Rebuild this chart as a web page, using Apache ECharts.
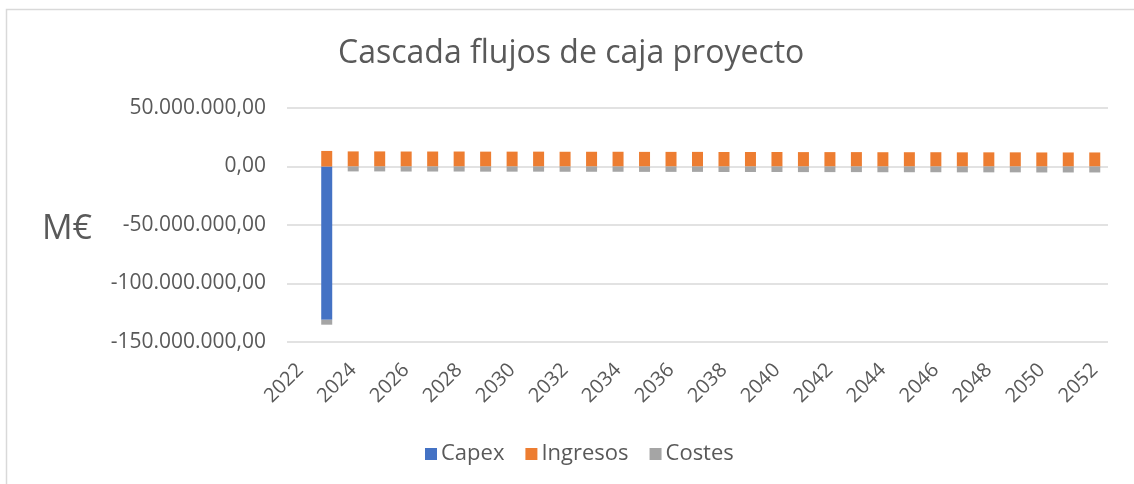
<!DOCTYPE html>
<html>
<head>
<meta charset="utf-8">
<script src="https://cdn.jsdelivr.net/npm/echarts@6/dist/echarts.min.js"></script>
<style>
  html, body { margin: 0; padding: 0; background: #fff; }
  #chart { width: 1134px; height: 484px; }
</style>
</head>
<body>
<div id="chart"></div>
<script>
// Years of the project cash-flow waterfall
const years = [
  '2022','2023','2024','2025','2026','2027','2028','2029','2030','2031',
  '2032','2033','2034','2035','2036','2037','2038','2039','2040','2041',
  '2042','2043','2044','2045','2046','2047','2048','2049','2050','2051','2052'
];

// Investment (only in the first operating year), euros
const capex = [
  null, -131000000, null, null, null, null, null, null, null, null,
  null, null, null, null, null, null, null, null, null, null,
  null, null, null, null, null, null, null, null, null, null, null
];

// Yearly revenue, euros
const ingresos = [
  null, 13300000, 12900000, 12900000, 12800000, 12800000, 12800000, 12700000, 12700000, 12700000,
  12600000, 12600000, 12600000, 12500000, 12500000, 12500000, 12400000, 12400000, 12400000, 12300000,
  12300000, 12300000, 12200000, 12200000, 12200000, 12100000, 12100000, 12100000, 12000000, 12000000, 12000000
];

// Yearly operating costs, euros
const costes = [
  null, -4200000, -4200000, -4200000, -4300000, -4300000, -4300000, -4400000, -4400000, -4400000,
  -4500000, -4500000, -4500000, -4600000, -4600000, -4600000, -4700000, -4700000, -4700000, -4800000,
  -4800000, -4800000, -4900000, -4900000, -4900000, -5000000, -5000000, -5000000, -5100000, -5100000, -5100000
];

// Value axis bounds and step
const yMin = -150000000;
const yMax = 50000000;
const yStep = 50000000;

const textColor = '#595959';
const gridColor = '#d9d9d9';
const font = '"Open Sans", "Noto Sans", sans-serif';

// Spanish number format: 50.000.000,00
function fmtEs(v) {
  const neg = v < 0;
  const s = Math.abs(v).toFixed(0).replace(/\B(?=(\d{3})+(?!\d))/g, '.');
  return (neg ? '-' : '') + s + ',00';
}

const chart = echarts.init(document.getElementById('chart'), null, { renderer: 'canvas' });

chart.setOption({
  animation: false,
  backgroundColor: '#ffffff',
  textStyle: { fontFamily: font, color: textColor },
  title: {
    text: 'Cascada flujos de caja proyecto',
    left: 338,
    top: 38,
    padding: 0,
    textStyle: { fontFamily: font, fontSize: 32, fontWeight: 'normal', color: textColor }
  },
  legend: {
    bottom: 14,
    left: 420,
    itemWidth: 12,
    itemHeight: 12,
    itemGap: 21,
    icon: 'rect',
    textStyle: { fontFamily: font, fontSize: 22, color: textColor, padding: [0, 0, 0, -1] },
    data: ['Capex', 'Ingresos', 'Costes']
  },
  grid: { left: 287, right: 26, top: 108, bottom: 142, containLabel: false },
  xAxis: {
    type: 'category',
    data: years,
    boundaryGap: true,
    axisLine: { show: false },
    axisTick: { show: false },
    splitLine: { show: false },
    axisLabel: {
      interval: 1,
      rotate: 45,
      margin: 25,
      fontFamily: font,
      fontSize: 20,
      color: textColor
    }
  },
  yAxis: {
    type: 'value',
    min: yMin,
    max: yMax,
    interval: yStep,
    axisLine: { show: false },
    axisTick: { show: false },
    splitLine: { show: true, lineStyle: { color: gridColor, width: 1.5 } },
    axisLabel: {
      margin: 21,
      fontFamily: font,
      fontSize: 21,
      color: textColor,
      formatter: fmtEs
    }
  },
  graphic: [
    {
      type: 'rect',
      silent: true,
      shape: { x: 6.5, y: 9.5, width: 1160, height: 520 },
      style: { fill: 'none', stroke: gridColor, lineWidth: 1.5 }
    },
    {
      type: 'text',
      silent: true,
      style: {
        text: 'M€',
        x: 67,
        y: 229,
        align: 'center',
        verticalAlign: 'middle',
        font: '34px ' + font,
        fill: textColor
      }
    }
  ],
  series: [
    {
      name: 'Capex',
      type: 'bar',
      stack: 'flujo',
      barWidth: 11,
      itemStyle: { color: '#4472C4' },
      data: capex
    },
    {
      name: 'Ingresos',
      type: 'bar',
      stack: 'flujo',
      barWidth: 11,
      itemStyle: { color: '#ED7D31' },
      data: ingresos
    },
    {
      name: 'Costes',
      type: 'bar',
      stack: 'flujo',
      barWidth: 11,
      itemStyle: { color: '#A5A5A5' },
      data: costes
    }
  ]
});
</script>
</body>
</html>
